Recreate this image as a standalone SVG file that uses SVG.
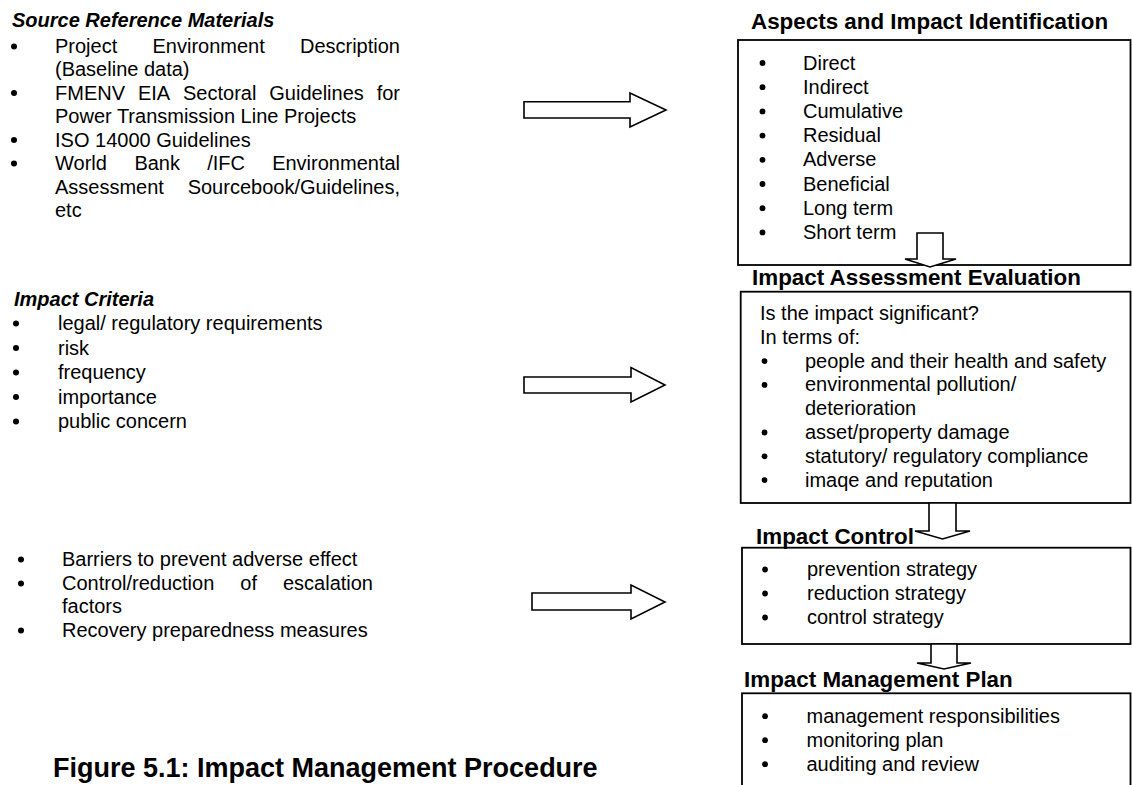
<svg xmlns="http://www.w3.org/2000/svg" width="1132" height="785" viewBox="0 0 1132 785">
<style>
text{font-family:"Liberation Sans",Arial,sans-serif;font-size:20px;fill:#000}
.hi{font-weight:bold;font-style:italic}
.hd{font-weight:bold;font-size:22.4px}
.ttl{font-weight:bold;font-size:27px}
.box{fill:#fff;stroke:#000;stroke-width:1.8}
.arr{fill:#fff;stroke:#000;stroke-width:1.6;stroke-linejoin:miter}
circle{fill:#000}
</style>
<rect width="1132" height="785" fill="#fff"/>

<g id="source-materials">
<text class="hi" x="12" y="27">Source Reference Materials</text>
<circle cx="14" cy="46.5" r="3"/>
<text x="55" y="53">Project</text><text x="152.5" y="53">Environment</text><text x="400" y="53" text-anchor="end">Description</text>
<text x="55" y="76">(Baseline data)</text>
<circle cx="14" cy="93" r="3"/>
<text x="55" y="99.5">FMENV</text><text x="137.9" y="99.5">EIA</text><text x="183" y="99.5">Sectoral</text><text x="269.3" y="99.5">Guidelines</text><text x="400" y="99.5" text-anchor="end">for</text>
<text x="55" y="123">Power Transmission Line Projects</text>
<circle cx="14" cy="140" r="3"/>
<text x="55" y="146.5">ISO 14000 Guidelines</text>
<circle cx="14" cy="163.5" r="3"/>
<text x="55" y="170">World</text><text x="134.4" y="170">Bank</text><text x="207.2" y="170">/IFC</text><text x="400" y="170" text-anchor="end">Environmental</text>
<text x="55" y="193.5">Assessment</text><text x="400" y="193.5" text-anchor="end">Sourcebook/Guidelines,</text>
<text x="55" y="217">etc</text>
</g>

<g id="impact-criteria">
<text class="hi" x="14" y="306">Impact Criteria</text>
<circle cx="16" cy="323.5" r="3"/><text x="58" y="330">legal/ regulatory requirements</text>
<circle cx="16" cy="348" r="3"/><text x="58" y="354.5">risk</text>
<circle cx="16" cy="372.5" r="3"/><text x="58" y="379">frequency</text>
<circle cx="16" cy="397" r="3"/><text x="58" y="403.5">importance</text>
<circle cx="16" cy="421.5" r="3"/><text x="58" y="428">public concern</text>
</g>

<g id="control-measures">
<circle cx="21" cy="559.5" r="3"/><text x="62" y="566">Barriers to prevent adverse effect</text>
<circle cx="21" cy="583.5" r="3"/><text x="62" y="590">Control/reduction</text><text x="240.3" y="590">of</text><text x="373" y="590" text-anchor="end">escalation</text>
<text x="62" y="613">factors</text>
<circle cx="21" cy="630.5" r="3"/><text x="62" y="637">Recovery preparedness measures</text>
</g>

<g id="figure-title">
<text class="ttl" x="53" y="777">Figure 5.1: Impact Management Procedure</text>
</g>

<g id="aspects-identification">
<text class="hd" x="751" y="29">Aspects and Impact Identification</text>
<rect class="box" x="738" y="40" width="392.5" height="225"/>
<circle cx="762.5" cy="63" r="2.9"/><text x="803" y="69.5">Direct</text>
<circle cx="762.5" cy="87.2" r="2.9"/><text x="803" y="93.7">Indirect</text>
<circle cx="762.5" cy="111.4" r="2.9"/><text x="803" y="117.9">Cumulative</text>
<circle cx="762.5" cy="135.6" r="2.9"/><text x="803" y="142.1">Residual</text>
<circle cx="762.5" cy="159.8" r="2.9"/><text x="803" y="166.3">Adverse</text>
<circle cx="762.5" cy="184" r="2.9"/><text x="803" y="190.5">Beneficial</text>
<circle cx="762.5" cy="208.2" r="2.9"/><text x="803" y="214.7">Long term</text>
<circle cx="762.5" cy="232.4" r="2.9"/><text x="803" y="238.9">Short term</text>
</g>

<g id="assessment-evaluation">
<rect class="box" x="740.7" y="291.7" width="389.8" height="211.3"/>
<text class="hd" x="752" y="285">Impact Assessment Evaluation</text>
<text x="760" y="320">Is the impact significant?</text>
<text x="760" y="343.8">In terms of:</text>
<circle cx="764.5" cy="361.1" r="2.9"/><text x="805" y="367.6">people and their health and safety</text>
<circle cx="764.5" cy="384.9" r="2.9"/><text x="805" y="391.4">environmental pollution/</text>
<text x="805" y="415.2">deterioration</text>
<circle cx="764.5" cy="432.5" r="2.9"/><text x="805" y="439">asset/property damage</text>
<circle cx="764.5" cy="456.3" r="2.9"/><text x="805" y="462.8">statutory/ regulatory compliance</text>
<circle cx="764.5" cy="480.1" r="2.9"/><text x="805" y="486.6">imaqe and reputation</text>
</g>

<g id="impact-control">
<rect class="box" x="742" y="547.7" width="388.5" height="96.3"/>
<text class="hd" x="756" y="544">Impact Control</text>
<circle cx="765" cy="569.5" r="2.9"/><text x="807" y="576">prevention strategy</text>
<circle cx="765" cy="593.5" r="2.9"/><text x="807" y="600">reduction strategy</text>
<circle cx="765" cy="617.5" r="2.9"/><text x="807" y="624">control strategy</text>
</g>

<g id="management-plan">
<rect class="box" x="742" y="693.3" width="388.5" height="120"/>
<text class="hd" x="744" y="687">Impact Management Plan</text>
<circle cx="765" cy="716.2" r="2.9"/><text x="806.5" y="722.7">management responsibilities</text>
<circle cx="765" cy="740.2" r="2.9"/><text x="806.5" y="746.7">monitoring plan</text>
<circle cx="765" cy="764.2" r="2.9"/><text x="806.5" y="770.7">auditing and review</text>
</g>

<g id="connectors">
<polygon class="arr" points="524,101.7 630,101.7 630,93 666,110 630,127 630,118 524,118"/>
<polygon class="arr" points="524,377 631,377 631,367.5 665,385 631,402 631,393 524,393"/>
<polygon class="arr" points="532,593 631,593 631,585 665,602 631,619 631,610 532,610"/>
<polygon class="arr" points="917,233 943,233 943,259 956,259 930,267 905,259 917,259"/>
<polygon class="arr" points="929,503 956,503 956,531 970,531 942.5,539 915,531 929,531"/>
<polygon class="arr" points="931,644 957,644 957,663 971,663 944,669 917,663 931,663"/>
</g>
</svg>
